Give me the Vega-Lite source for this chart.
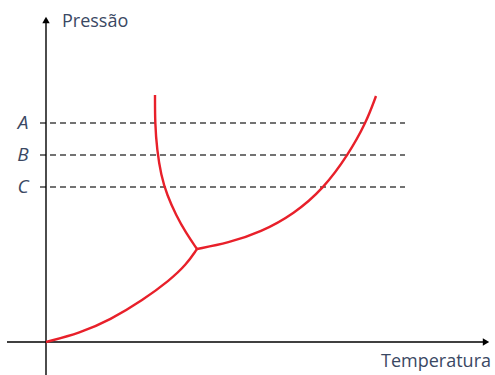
{
  "$schema": "https://vega.github.io/schema/vega-lite/v6.json",
  "width": 495,
  "height": 375,
  "padding": 0,
  "autosize": {"type": "none"},
  "config": {"view": {"stroke": null}},
  "datasets": {
    "curves": [
      {"curve": "sublimacao", "ord": 0, "T": 0, "P": 0},
      {"curve": "sublimacao", "ord": 1, "T": 34, "P": 9},
      {"curve": "sublimacao", "ord": 2, "T": 64, "P": 22},
      {"curve": "sublimacao", "ord": 3, "T": 97, "P": 42},
      {"curve": "sublimacao", "ord": 4, "T": 124, "P": 62},
      {"curve": "sublimacao", "ord": 5, "T": 140, "P": 77},
      {"curve": "sublimacao", "ord": 6, "T": 151, "P": 93},
      {"curve": "fusao", "ord": 0, "T": 151, "P": 93},
      {"curve": "fusao", "ord": 1, "T": 140, "P": 109},
      {"curve": "fusao", "ord": 2, "T": 130, "P": 127},
      {"curve": "fusao", "ord": 3, "T": 121, "P": 147},
      {"curve": "fusao", "ord": 4, "T": 115, "P": 167},
      {"curve": "fusao", "ord": 5, "T": 111, "P": 192},
      {"curve": "fusao", "ord": 6, "T": 109, "P": 219},
      {"curve": "fusao", "ord": 7, "T": 109, "P": 247},
      {"curve": "vaporizacao", "ord": 0, "T": 151, "P": 93},
      {"curve": "vaporizacao", "ord": 1, "T": 182, "P": 99},
      {"curve": "vaporizacao", "ord": 2, "T": 215, "P": 110},
      {"curve": "vaporizacao", "ord": 3, "T": 248, "P": 128},
      {"curve": "vaporizacao", "ord": 4, "T": 278, "P": 154},
      {"curve": "vaporizacao", "ord": 5, "T": 302, "P": 187},
      {"curve": "vaporizacao", "ord": 6, "T": 320, "P": 219},
      {"curve": "vaporizacao", "ord": 7, "T": 330, "P": 246}
    ],
    "levels": [
      {"label": "A", "P": 219, "T0": -6, "T1": 359, "TL": -23},
      {"label": "B", "P": 187, "T0": -6, "T1": 359, "TL": -23},
      {"label": "C", "P": 155, "T0": -6, "T1": 359, "TL": -23}
    ]
  },
  "encoding": {
    "x": {"type": "quantitative", "scale": {"domain": [-46, 449], "nice": false, "zero": false}, "axis": null},
    "y": {"type": "quantitative", "scale": {"domain": [-33, 342], "nice": false, "zero": false}, "axis": null}
  },
  "layer": [
    {
      "data": {"name": "levels"},
      "mark": {"type": "rule", "color": "#444444", "strokeWidth": 1.3, "strokeDash": [6, 4]},
      "encoding": {
        "x": {"field": "T0", "type": "quantitative"},
        "x2": {"field": "T1"},
        "y": {"field": "P", "type": "quantitative"}
      }
    },
    {
      "data": {"name": "levels"},
      "mark": {"type": "text", "font": "Open Sans", "fontStyle": "italic", "fontSize": 19, "color": "#3a4863", "align": "center", "baseline": "middle"},
      "encoding": {
        "x": {"field": "TL", "type": "quantitative"},
        "y": {"field": "P", "type": "quantitative"},
        "text": {"field": "label"}
      }
    },
    {
      "data": {"values": [{"T": -39, "T2": 440, "P": 0, "P2": 0}, {"T": 0, "T2": 0, "P": -33, "P2": 322}]},
      "mark": {"type": "rule", "color": "#000000", "strokeWidth": 1.4},
      "encoding": {
        "x": {"field": "T", "type": "quantitative"},
        "x2": {"field": "T2"},
        "y": {"field": "P", "type": "quantitative"},
        "y2": {"field": "P2"}
      }
    },
    {
      "data": {"values": [{"T": 440, "P": 0}]},
      "mark": {"type": "point", "shape": "triangle-right", "filled": true, "color": "#000000", "size": 55, "opacity": 1},
      "encoding": {
        "x": {"field": "T", "type": "quantitative"},
        "y": {"field": "P", "type": "quantitative"}
      }
    },
    {
      "data": {"values": [{"T": 0, "P": 322}]},
      "mark": {"type": "point", "shape": "triangle-up", "filled": true, "color": "#000000", "size": 55, "opacity": 1},
      "encoding": {
        "x": {"field": "T", "type": "quantitative"},
        "y": {"field": "P", "type": "quantitative"}
      }
    },
    {
      "data": {"name": "curves"},
      "mark": {"type": "line", "color": "#e8202a", "strokeWidth": 2.4, "interpolate": "basis"},
      "encoding": {
        "x": {"field": "T", "type": "quantitative"},
        "y": {"field": "P", "type": "quantitative"},
        "detail": {"field": "curve"},
        "order": {"field": "ord", "type": "quantitative"}
      }
    },
    {
      "data": {"values": [{"T": 16, "P": 320, "text": "Pressão"}]},
      "mark": {"type": "text", "font": "Open Sans", "fontSize": 18, "color": "#3a4863", "align": "left", "baseline": "middle"},
      "encoding": {
        "x": {"field": "T", "type": "quantitative"},
        "y": {"field": "P", "type": "quantitative"},
        "text": {"field": "text"}
      }
    },
    {
      "data": {"values": [{"T": 445, "P": -20, "text": "Temperatura"}]},
      "mark": {"type": "text", "font": "Open Sans", "fontSize": 18, "color": "#3a4863", "align": "right", "baseline": "middle"},
      "encoding": {
        "x": {"field": "T", "type": "quantitative"},
        "y": {"field": "P", "type": "quantitative"},
        "text": {"field": "text"}
      }
    }
  ]
}
